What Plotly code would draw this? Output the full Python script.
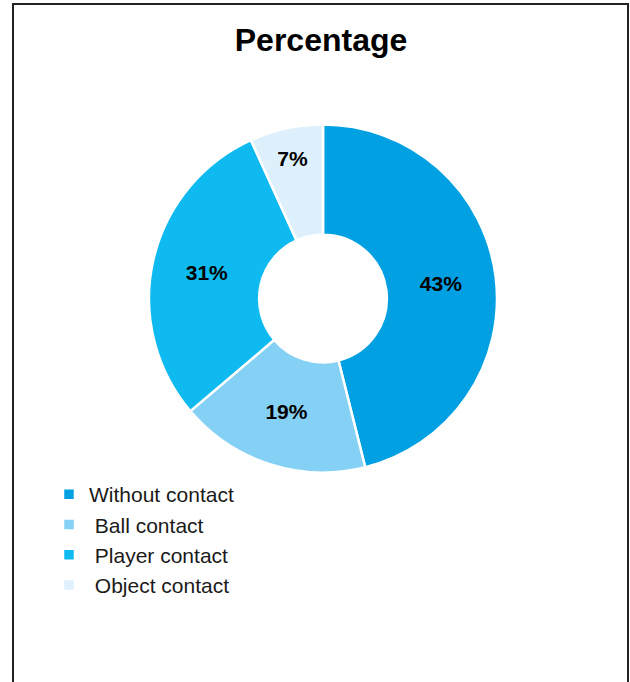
import plotly.graph_objects as go

categories = ["Without contact", "\u00a0Ball contact", "\u00a0Player contact", "\u00a0Object contact"]
slice_values = [46.1, 17.7, 29.4, 6.8]
printed_labels = ["43%", "19%", "31%", "7%"]
colors = ["#00A0E3", "#85D0F5", "#0EBAEF", "#DEF0FC"]

W, H = 630, 682


def px_x(x):
    return x / W


def px_y(y):
    return 1 - y / H


fig = go.Figure(
    go.Pie(
        labels=categories,
        values=slice_values,
        text=printed_labels,
        textinfo="text",
        texttemplate="%{text}",
        textposition="inside",
        insidetextorientation="horizontal",
        textfont=dict(family="Liberation Sans, Arial, sans-serif", size=21, color="black", weight="bold"),
        marker=dict(colors=colors, line=dict(color="white", width=2.5)),
        hole=0.367,
        sort=False,
        direction="clockwise",
        rotation=0,
        hoverinfo="skip",
        domain=dict(x=[px_x(149), px_x(497)], y=[px_y(472.5), px_y(124.5)]),
    )
)

fig.update_layout(
    width=W,
    height=H,
    margin=dict(l=0, r=0, t=0, b=0),
    paper_bgcolor="white",
    plot_bgcolor="white",
    title=dict(
        text="<b>Percentage</b>",
        x=px_x(321),
        xanchor="center",
        y=px_y(40),
        yanchor="middle",
        font=dict(family="Liberation Sans, Arial, sans-serif", size=32, color="black"),
    ),
    legend=dict(
        x=px_x(49),
        xanchor="left",
        y=px_y(474),
        yanchor="top",
        font=dict(family="Liberation Sans, Arial, sans-serif", size=21, color="#1a1a1a"),
        bgcolor="rgba(0,0,0,0)",
        tracegroupgap=0,
    ),
    showlegend=True,
    shapes=[
        dict(
            type="rect",
            xref="paper",
            yref="paper",
            x0=px_x(13),
            x1=px_x(628),
            y0=-0.05,
            y1=px_y(4),
            line=dict(color="#222222", width=2),
            fillcolor="rgba(0,0,0,0)",
        )
    ],
)

fig.write_html(
    "out.html",
    config={"displayModeBar": False},
    post_script="document.body.style.margin='0';document.body.style.padding='0';",
)
